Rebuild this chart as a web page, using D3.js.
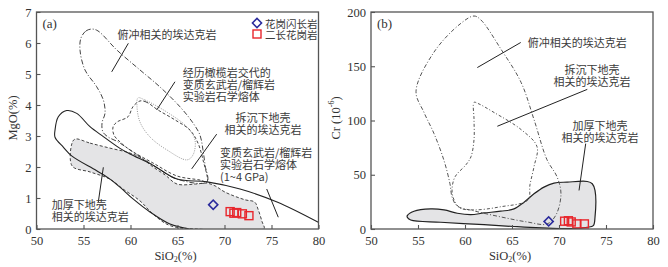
<!DOCTYPE html>
<html>
<head>
<meta charset="utf-8">
<script src="https://cdn.jsdelivr.net/npm/d3@7"></script>
<style>
  body { margin: 0; background: #fff; }
  text { font-family: "Liberation Serif", "Noto Sans CJK SC", serif; fill: #333; }
  .cn { font-family: "Noto Sans CJK SC", sans-serif; font-size: 11px; fill: #3a3a3a; }
</style>
</head>
<body>
<svg id="chart" width="668" height="267"></svg>
<script>
// tick labels
const siTicks = [50, 55, 60, 65, 70, 75, 80];
const mgoTicks = [0, 1, 2, 3, 4, 5, 6, 7];
const crTicks = [0, 50, 100, 150, 200];

// samples: [SiO2, MgO] and [SiO2, Cr]
const granodiorite = [[68.8, 0.78]];
const monzogranite = [[70.6, 0.56], [71.0, 0.51], [71.3, 0.53], [71.9, 0.49], [72.6, 0.43]];
const granodioriteCr = [[68.9, 7]];
const monzograniteCr = [[70.6, 7.2], [71.0, 7.6], [71.3, 6.5], [71.9, 4.7], [72.7, 4.7]];

// (a) fields, SiO2 vs MgO
const thickA = [[54.1, 2.9], [55.7, 2.77], [57.8, 2.61], [59.6, 2.48], [61.0, 2.32], [62.4, 2.0], [63.7, 1.74],
  [64.95, 1.45], [66.9, 1.45], [68.1, 1.48], [69.0, 1.39], [70.05, 1.19], [72.2, 0.94], [73.2, 0.87],
  [73.6, 0.61], [74.0, 0.23], [74.2, 0], [67.1, 0], [64.2, 0.11], [62.4, 0.48], [61.0, 0.91], [59.2, 1.29],
  [57.8, 1.61], [55.7, 1.84], [53.8, 2.03], [53.75, 2.74]];
const meltA = [[66.3, 0], [64.2, 0.16], [62.07, 0.55], [60.27, 0.97], [58.88, 1.35], [57.82, 1.61], [56.4, 1.88],
  [53.74, 2.36], [52.85, 2.64], [51.97, 2.96], [51.97, 3.19], [52.32, 3.62], [53.21, 3.82], [54.28, 3.73],
  [55.69, 3.3], [57.11, 2.98], [58.88, 2.6], [59.95, 2.42], [62.39, 2.06], [64.95, 1.61], [68.14, 1.52],
  [71.65, 1.29], [75.59, 0.87], [80.2, 0.18]];
const subductA = [[54.73, 6.16], [55.27, 6.39], [55.9, 6.45], [56.54, 6.39], [58.56, 5.77], [61.01, 5.13],
  [63.14, 4.58], [65.27, 3.94], [66.65, 3.42], [67.39, 3.03], [67.71, 2.55], [67.93, 2.06], [68.14, 1.52],
  [64.95, 1.61], [62.39, 2.06], [59.95, 2.55], [58.67, 2.81], [57.61, 2.97], [57.07, 3.13], [56.97, 3.42],
  [57.29, 3.74], [57.11, 4.16], [56.4, 4.59], [55.16, 5.13], [54.63, 5.77]];
const delamA = [[61.01, 4.13], [61.65, 4.1], [62.92, 3.84], [64.73, 3.52], [66.33, 3.19], [67.18, 2.77],
  [67.71, 2.23], [68.14, 1.52], [67.39, 1.58], [64.95, 1.71], [62.39, 2.13], [59.95, 2.55], [58.88, 2.81],
  [58.24, 3.03], [58.14, 3.29], [58.56, 3.45], [59.73, 3.62], [60.27, 3.95]];
const hybridA = [[60.8, 4.23], [61.54, 4.16], [63.88, 3.77], [66.01, 3.29], [66.86, 2.87], [66.65, 2.39],
  [66.01, 2.23], [63.88, 2.55], [62.07, 2.97], [61.01, 3.45], [60.69, 3.97]];

// (b) fields, SiO2 vs Cr
const thickB = [[53.86, 12.3], [54.57, 16.4], [56.35, 18.5], [57.77, 17.6], [59.18, 14.5], [60.61, 13.2],
  [62.02, 14.8], [63.8, 16.4], [65.21, 18.5], [66.28, 24.7], [67.34, 32.4], [68.4, 38.6], [69.47, 42.3],
  [70.88, 43.2], [73.01, 43.8], [73.54, 41.7], [73.83, 35.5], [73.83, 10.8], [73.65, 3.1], [73.01, 1.6],
  [70.88, 0.3], [68.76, 0.8], [65.56, 2.1], [62.02, 4.0], [57.41, 6.2], [54.22, 8.3], [53.86, 10.8]];
const subductB = [[60.96, 196.3], [61.7, 192.6], [63.83, 165.7], [65.96, 135.2], [67.34, 100.9], [68.72, 63.9],
  [69.79, 48.1], [70.21, 32.4], [69.68, 13.0], [68.72, 4.6], [66.6, 6.5], [63.83, 11.1], [60.96, 16.7],
  [59.15, 21.3], [58.62, 29.6], [58.4, 41.7], [57.77, 63.0], [56.7, 88.0], [55.64, 107.4], [54.79, 126.9],
  [56.7, 163.0], [59.47, 188.9]];
const delamB = [[60.96, 116.7], [61.38, 115.7], [63.09, 107.4], [65.96, 91.7], [67.66, 75.9], [67.34, 57.4],
  [66.91, 40.7], [66.7, 26.9], [63.72, 20.4], [60.96, 17.6], [59.47, 19.4], [58.83, 26.9], [58.62, 36.1],
  [58.94, 48.1], [60.11, 59.3], [60.64, 66.7], [60.96, 82.4], [60.96, 100.9]];

// labels: lines, anchor, [SiO2, y] of first line centre
const labelsA = [
  { lines: ['俯冲相关的埃达克岩'], anchor: 'middle', at: [63.88, 6.28] },
  { lines: ['经历橄榄岩交代的', '变质玄武岩/榴辉岩', '实验岩石学熔体'], anchor: 'start', at: [65.55, 5.07] },
  { lines: ['拆沉下地壳', '相关的埃达克岩'], anchor: 'middle', at: [74.1, 3.62] },
  { lines: ['变质玄武岩/榴辉岩', '实验岩石学熔体', '(1~4 GPa)'], anchor: 'start', at: [69.52, 2.47] },
  { lines: ['加厚下地壳', '相关的埃达克岩'], anchor: 'start', at: [51.62, 0.81] }
];
const pointersA = [[[59.77, 5.99], [58.0, 5.07]], [[64.73, 4.75], [62.79, 3.84]], [[69.17, 3.06], [66.51, 1.94]],
  [[74.49, 1.29], [75.72, 0.38]], [[57.11, 1.99], [56.57, 0.86]]];
const labelsB = [
  { lines: ['俯冲相关的埃达克岩'], anchor: 'middle', at: [71.95, 171.9] },
  { lines: ['拆沉下地壳', '相关的埃达克岩'], anchor: 'middle', at: [73.5, 147.2] },
  { lines: ['加厚下地壳', '相关的埃达克岩'], anchor: 'middle', at: [74.36, 95.4] }
];
const pointersB = [[[65.93, 171.9], [61.31, 148.8]], [[73.01, 128.7], [63.44, 94.7]], [[72.84, 78.7], [72.13, 35.5]]];

const svg = d3.select('#chart');
const plotTop = 12, plotBottom = 229;
const lineGap = 12;

function panel(o) {
  const x = d3.scaleLinear().domain([50, 80]).range(o.xr);
  const y = d3.scaleLinear().domain(o.yd).range([plotBottom, plotTop]);
  const g = svg.append('g');

  const clipId = 'clip' + o.id;
  svg.append('clipPath').attr('id', clipId).append('rect')
    .attr('x', o.xr[0]).attr('y', plotTop).attr('width', o.xr[1] - o.xr[0]).attr('height', plotBottom - plotTop);

  const plot = g.append('g').attr('clip-path', 'url(#' + clipId + ')');
  const line = d3.line().x(d => x(d[0])).y(d => y(d[1]));

  o.fields.forEach(f => {
    line.curve(f.closed ? d3.curveCatmullRomClosed.alpha(0.5) : d3.curveCatmullRom.alpha(0.5));
    plot.append('path')
      .attr('d', line(f.pts))
      .attr('fill', f.fill || 'none')
      .attr('stroke', f.color)
      .attr('stroke-width', f.width || 1)
      .attr('stroke-dasharray', f.dash || null);
  });

  // pointer lines
  line.curve(d3.curveLinear);
  o.pointers.forEach(p => {
    plot.append('path').attr('d', line(p)).attr('stroke', '#222').attr('stroke-width', 1).attr('fill', 'none');
  });

  // labels, one text per line
  o.labels.forEach(l => {
    l.lines.forEach((s, i) => {
      g.append('text').attr('class', 'cn')
        .attr('text-anchor', l.anchor)
        .attr('x', x(l.at[0])).attr('y', y(l.at[1]) + i * lineGap)
        .attr('dominant-baseline', 'central')
        .text(s);
    });
  });

  // samples
  g.selectAll('.dia').data(o.dia).enter().append('path')
    .attr('d', d3.symbol(d3.symbolSquare, 42))
    .attr('transform', d => 'translate(' + x(d[0]) + ',' + y(d[1]) + ') rotate(45)')
    .attr('fill', 'none').attr('stroke', '#2a2a9c').attr('stroke-width', 1.6);
  g.selectAll('.sq').data(o.sq).enter().append('rect')
    .attr('x', d => x(d[0]) - 4).attr('y', d => y(d[1]) - 4)
    .attr('width', 8).attr('height', 8)
    .attr('fill', 'none').attr('stroke', '#e8262c').attr('stroke-width', 1.4);

  // axes, ticks inward
  const ax = g.append('g').attr('transform', 'translate(0,' + plotBottom + ')')
    .call(d3.axisBottom(x).tickValues(siTicks).tickSize(-4).tickPadding(7).tickFormat(d3.format('d')));
  const ay = g.append('g').attr('transform', 'translate(' + o.xr[0] + ',0)')
    .call(d3.axisLeft(y).tickValues(o.yTicks).tickSize(-4).tickPadding(5).tickFormat(d3.format('d')));
  [ax, ay].forEach(a => {
    a.select('.domain').remove();
    a.selectAll('line').attr('stroke', '#555').attr('stroke-width', 1.1);
    a.selectAll('text').attr('font-size', 12.5).attr('fill', '#333')
      .style('font-family', '"Liberation Serif", serif');
  });

  g.append('rect')
    .attr('x', o.xr[0]).attr('y', plotTop).attr('width', o.xr[1] - o.xr[0]).attr('height', plotBottom - plotTop)
    .attr('fill', 'none').attr('stroke', '#555').attr('stroke-width', 1.3);

  g.append('text').attr('x', o.xr[0] + 6).attr('y', 23).attr('dominant-baseline', 'central')
    .attr('font-size', 13).text(o.tag);

  const xl = g.append('text').attr('x', (o.xr[0] + o.xr[1]) / 2 - 2).attr('y', 256)
    .attr('text-anchor', 'middle').attr('dominant-baseline', 'central').attr('font-size', 12.5);
  xl.append('tspan').text('SiO');
  xl.append('tspan').attr('font-size', 8).attr('dy', 3).text('2');
  xl.append('tspan').attr('dy', -3).text('(%)');

  const yl = g.append('text').attr('transform', 'translate(' + o.ylx + ',118) rotate(-90)')
    .attr('text-anchor', 'middle').attr('dominant-baseline', 'central').attr('font-size', 12.5);
  o.ylabel(yl);
  return { x, y, g };
}

const greyFill = '#e4e4e6';

const pa = panel({
  id: 'a', tag: '(a)', xr: [36.5, 318.5], yd: [0, 7], yTicks: mgoTicks, ylx: 13,
  fields: [
    { pts: thickA, closed: true, fill: greyFill, color: '#444', dash: '3,2', width: 1 },
    { pts: hybridA, closed: true, color: '#999', dash: '1,1.3', width: 1 },
    { pts: delamA, closed: true, color: '#444', dash: '3,2', width: 1 },
    { pts: subductA, closed: true, color: '#444', dash: '5,2,1,2', width: 1 },
    { pts: meltA, closed: false, color: '#222', width: 1.1 }
  ],
  labels: labelsA, pointers: pointersA, dia: granodiorite, sq: monzogranite,
  ylabel: t => t.text('MgO(%)')
});

panel({
  id: 'b', tag: '(b)', xr: [371, 653], yd: [0, 200], yTicks: crTicks, ylx: 336,
  fields: [
    { pts: thickB, closed: true, fill: greyFill, color: '#222', width: 1.2 },
    { pts: subductB, closed: true, color: '#555', dash: '4,2,1,2', width: 1 },
    { pts: delamB, closed: true, color: '#555', dash: '3,2,1,2', width: 1 }
  ],
  labels: labelsB, pointers: pointersB, dia: granodioriteCr, sq: monzograniteCr,
  ylabel: t => {
    t.append('tspan').text('Cr (10');
    t.append('tspan').attr('font-size', 8).attr('dy', -5).text('-6');
    t.append('tspan').attr('dy', 5).text(')');
  }
});

// legend in (a)
const lg = pa.g.append('g');
lg.append('path').attr('d', d3.symbol(d3.symbolSquare, 42))
  .attr('transform', 'translate(257,23) rotate(45)')
  .attr('fill', 'none').attr('stroke', '#2a2a9c').attr('stroke-width', 1.5);
lg.append('rect').attr('x', 253).attr('y', 30).attr('width', 8).attr('height', 8)
  .attr('fill', 'none').attr('stroke', '#e8262c').attr('stroke-width', 1.4);
lg.append('text').attr('class', 'cn').attr('x', 265).attr('y', 23).attr('dominant-baseline', 'central')
  .style('font-size', '10.5px').text('花岗闪长岩');
lg.append('text').attr('class', 'cn').attr('x', 265).attr('y', 34.5).attr('dominant-baseline', 'central')
  .style('font-size', '10.5px').text('二长花岗岩');
</script>
</body>
</html>
